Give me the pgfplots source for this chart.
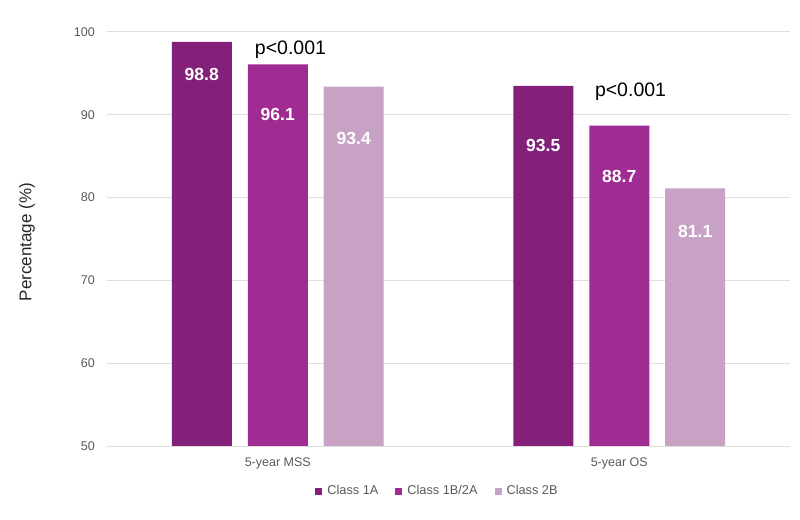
\documentclass[border=0pt]{standalone}
\usepackage{pgfplots}
\pgfplotsset{compat=1.18}
\usepackage{fontspec}
\setmainfont{Liberation Sans}
\definecolor{cA}{HTML}{83217A}
\definecolor{cB}{HTML}{A02B93}
\definecolor{cC}{HTML}{C8A2C4}
\definecolor{gridc}{HTML}{DEDEDE}
\definecolor{tk}{HTML}{595959}
\begin{document}
\begin{tikzpicture}
\useasboundingbox (-107bp,-74bp) rectangle (693bp,446bp);
\begin{axis}[
  at={(0,0)}, anchor=south west,
  scale only axis, width=683bp, height=414bp,
  ybar, bar width=0.1757,
  xmin=-0.5, xmax=1.5, ymin=50, ymax=100,
  xtick={0,1}, xticklabels={5-year MSS,5-year OS},
  ytick={50,60,70,80,90,100},
  xmajorgrids=false, ymajorgrids=true,
  major grid style={draw=gridc, line width=1bp},
  axis line style={draw=none}, major tick length=0pt, tick style={draw=none},
  /pgf/number format/assume math mode=true,
  xticklabel style={font=\fontsize{12.5bp}{14bp}\selectfont, text=tk, anchor=base, inner sep=0pt, yshift=-20.5bp},
  yticklabel style={font=\fontsize{12.6bp}{14bp}\selectfont, text=tk, anchor=east, inner sep=0pt, xshift=-12bp},
  legend columns=3,
  legend style={draw=none, fill=none, at={(0.4824,-0.1087)}, anchor=center,
    font=\fontsize{12.75bp}{14bp}\selectfont, text=tk,
    /tikz/every even column/.append style={column sep=17bp}, inner sep=0pt,
    nodes={inner sep=0pt}},
  legend image code/.code={\fill[#1] (0bp,-3.5bp) rectangle (7bp,3.5bp); \path (12bp,0bp);},
]
\addplot[fill=cA, draw=none, bar shift=-0.2225] coordinates {(0,98.8) (1,93.5)};
\addplot[fill=cB, draw=none, bar shift=0] coordinates {(0,96.1) (1,88.7)};
\addplot[fill=cC, draw=none, bar shift=0.2225] coordinates {(0,93.4) (1,81.1)};
\legend{Class 1A, Class 1B/2A, Class 2B}
\begin{scope}[every node/.style={anchor=base, text=white, font=\fontsize{17.5bp}{19bp}\selectfont\bfseries, inner sep=0pt}]
\node at (axis cs:-0.2225,94.20) {98.8};
\node at (axis cs:0,89.36) {96.1};
\node at (axis cs:0.2225,86.46) {93.4};
\node at (axis cs:0.7775,85.62) {93.5};
\node at (axis cs:1,81.87) {88.7};
\node at (axis cs:1.2225,75.22) {81.1};
\end{scope}
\node[anchor=base, inner sep=0pt, font=\fontsize{19.5bp}{21bp}\selectfont] at (axis cs:0.0373,97.26) {p<0.001};
\node[anchor=base, inner sep=0pt, font=\fontsize{19.5bp}{21bp}\selectfont] at (axis cs:1.033,92.18) {p<0.001};
\end{axis}
\node[rotate=90, inner sep=0pt, text=black!85, font=\fontsize{17bp}{19bp}\selectfont] at (-80bp,204bp) {Percentage (\%)};
\end{tikzpicture}
\end{document}
